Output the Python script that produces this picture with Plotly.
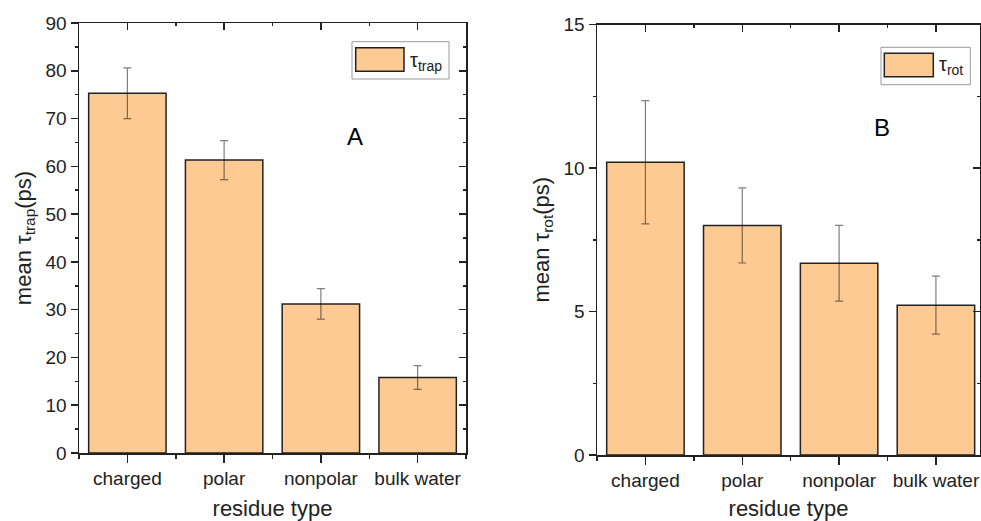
import plotly.graph_objects as go

# ---------------- data ----------------
categories = ["charged", "polar", "nonpolar", "bulk water"]
tau_trap = [75.3, 61.3, 31.2, 15.8]
tau_trap_err = [5.3, 4.1, 3.2, 2.5]
tau_rot = [10.2, 8.0, 6.68, 5.22]
tau_rot_err = [2.15, 1.31, 1.32, 1.01]
yticks_a = [0, 10, 20, 30, 40, 50, 60, 70, 80, 90]
yticks_b = [0, 5, 10, 15]

W, H = 981, 521
FONT = "Arial, Liberation Sans, sans-serif"
BAR_FILL = "#FDCA93"
INK = "#222222"
ERR = "rgba(0,0,0,0.5)"

def px_x(x):
    return x / W

def px_y(y):
    return 1 - y / H

xpos = list(range(len(categories)))

fig = go.Figure()
fig.add_trace(go.Bar(
    x=xpos, y=tau_trap, width=0.8, xaxis="x", yaxis="y",
    marker=dict(color=BAR_FILL, line=dict(color=INK, width=1.5)),
    error_y=dict(type="data", array=tau_trap_err, color=ERR, thickness=1.2, width=4),
    showlegend=False, name="τtrap"))
fig.add_trace(go.Bar(
    x=xpos, y=tau_rot, width=0.8, xaxis="x2", yaxis="y2",
    marker=dict(color=BAR_FILL, line=dict(color=INK, width=1.5)),
    error_y=dict(type="data", array=tau_rot_err, color=ERR, thickness=1.2, width=4),
    showlegend=False, name="τrot"))

domA_x = [px_x(79), px_x(466)]
domA_y = [px_y(453), px_y(23)]
domB_x = [px_x(597), px_x(980)]
domB_y = [px_y(455), px_y(24.5)]

tickfont = dict(family=FONT, size=19, color=INK)
titlefont = dict(family=FONT, size=22, color=INK)

def xax(domain, rng, anchor, title):
    return dict(domain=domain, range=rng, anchor=anchor, tickmode="array",
                tickvals=xpos, ticktext=categories, ticks="outside", ticklen=8,
                tickwidth=1.5, tickcolor=INK, showline=True, linecolor=INK,
                linewidth=1.5, showgrid=False, zeroline=False, tickfont=tickfont,
                automargin=False,
                title=dict(text=title, font=titlefont, standoff=14),
                minor=dict(tickmode="array", tickvals=[-0.5, 0.5, 1.5, 2.5, 3.5],
                           ticks="outside", ticklen=4, tickwidth=1.5, tickcolor=INK))

def yax(domain, rng, anchor, ticks, minor_dt, title):
    return dict(domain=domain, range=rng, anchor=anchor, tickmode="array",
                tickvals=ticks, ticks="outside", ticklen=7, tickwidth=1.5,
                tickcolor=INK, showline=True, linecolor=INK, linewidth=1.5,
                showgrid=False, zeroline=False, tickfont=tickfont,
                automargin=False,
                title=dict(text=title, font=titlefont, standoff=8),
                minor=dict(dtick=minor_dt, tick0=0, ticks="outside", ticklen=3,
                           tickwidth=1.5, tickcolor=INK))

def top_ax(domain, rng, overlay, anchor):
    return dict(domain=domain, range=rng, overlaying=overlay, anchor=anchor,
                side="top", tickmode="array", tickvals=xpos, showticklabels=False,
                ticks="inside", ticklen=7, tickwidth=1.5, tickcolor=INK,
                showline=True, linecolor=INK, linewidth=1.5, showgrid=False,
                zeroline=False, automargin=False,
                minor=dict(tickmode="array", tickvals=[0.5, 1.5, 2.5],
                           ticks="inside", ticklen=3, tickwidth=1.5, tickcolor=INK))

def right_ax(domain, rng, overlay, anchor, ticks, minor_dt):
    return dict(domain=domain, range=rng, overlaying=overlay, anchor=anchor,
                side="right", tickmode="array", tickvals=ticks, showticklabels=False,
                ticks="inside", ticklen=7, tickwidth=1.5, tickcolor=INK,
                showline=True, linecolor=INK, linewidth=1.5, showgrid=False,
                zeroline=False, automargin=False,
                minor=dict(dtick=minor_dt, tick0=0, ticks="inside", ticklen=3,
                           tickwidth=1.5, tickcolor=INK))

rngA_x = [-0.5, 3.5]
rngB_x = [-0.5, 3.455]
rngA_y = [0, 90]
rngB_y = [0, 15]

# invisible helper traces so that the mirrored axes are drawn
fig.add_trace(go.Scatter(x=[None], y=[None], xaxis="x3", yaxis="y3",
                         showlegend=False, hoverinfo="skip"))
fig.add_trace(go.Scatter(x=[None], y=[None], xaxis="x4", yaxis="y4",
                         showlegend=False, hoverinfo="skip"))

fig.update_layout(
    template="none",
    width=W, height=H, autosize=False,
    margin=dict(l=0, r=0, t=0, b=0, autoexpand=False),
    paper_bgcolor="white", plot_bgcolor="rgba(0,0,0,0)",
    font=dict(family=FONT, color=INK),
    xaxis=xax(domA_x, rngA_x, "y", "residue type"),
    yaxis=yax(domA_y, rngA_y, "x", yticks_a, 5, "mean τ<sub>trap</sub>(ps)"),
    xaxis2=xax(domB_x, rngB_x, "y2", "residue type"),
    yaxis2=yax(domB_y, rngB_y, "x2", yticks_b, 2.5, "mean τ<sub>rot</sub>(ps)"),
    xaxis3=top_ax(domA_x, rngA_x, "x", "y3"),
    yaxis3=right_ax(domA_y, rngA_y, "y", "x3", yticks_a, 5),
    xaxis4=top_ax(domB_x, rngB_x, "x2", "y4"),
    yaxis4=right_ax(domB_y, rngB_y, "y2", "x4", yticks_b, 2.5),
    showlegend=False,
)

# legend boxes drawn as decorations
shapes = []
def rect(x0, y0, x1, y1, fill, line_color, lw):
    shapes.append(dict(type="rect", xref="paper", yref="paper",
                       x0=px_x(x0), x1=px_x(x1), y0=px_y(y1), y1=px_y(y0),
                       fillcolor=fill, line=dict(color=line_color, width=lw),
                       layer="above"))

rect(352, 41.7, 449, 79, "white", "#9a9a9a", 1)
rect(355.7, 47.7, 404, 71.3, BAR_FILL, INK, 1.5)
rect(881, 47.3, 970.3, 84.7, "white", "#9a9a9a", 1)
rect(884.3, 53.3, 933.3, 76.7, BAR_FILL, INK, 1.5)
fig.update_layout(shapes=shapes)

annotations = [
    dict(text="τ<sub>trap</sub>", x=px_x(408), y=px_y(61), xref="paper", yref="paper",
         xanchor="left", yanchor="middle", showarrow=False,
         font=dict(family=FONT, size=20, color=INK)),
    dict(text="τ<sub>rot</sub>", x=px_x(937), y=px_y(65), xref="paper", yref="paper",
         xanchor="left", yanchor="middle", showarrow=False,
         font=dict(family=FONT, size=20, color=INK)),
    dict(text="A", x=px_x(355), y=px_y(137), xref="paper", yref="paper",
         xanchor="center", yanchor="middle", showarrow=False,
         font=dict(family=FONT, size=24, color="black")),
    dict(text="B", x=px_x(882), y=px_y(127), xref="paper", yref="paper",
         xanchor="center", yanchor="middle", showarrow=False,
         font=dict(family=FONT, size=24, color="black")),
]
fig.update_layout(annotations=annotations)

fig.write_html("out.html",
               config={"displayModeBar": False, "staticPlot": True},
               post_script="document.body.style.margin='0';document.body.style.overflow='hidden';")
